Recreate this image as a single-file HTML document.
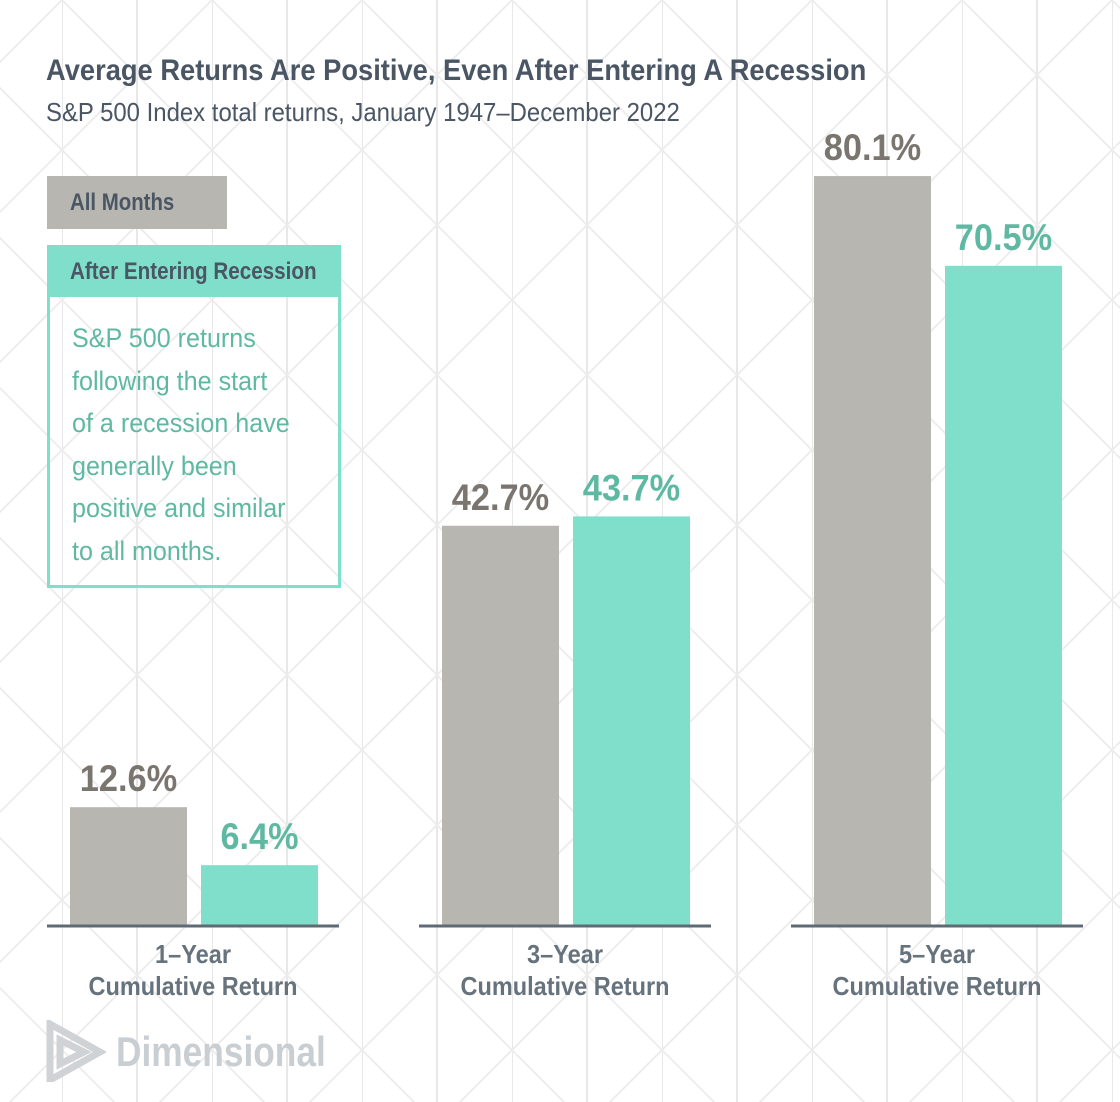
<!DOCTYPE html>
<html><head><meta charset="utf-8"><style>
body{margin:0;width:1120px;height:1102px;background:#fff;overflow:hidden;position:relative;font-family:"Liberation Sans Narrow","Liberation Sans",sans-serif;}
.abs{position:absolute;}
.sq{display:inline-block;transform-origin:0 0;white-space:nowrap;}
</style></head><body>
<svg class="abs" style="left:0;top:0" width="1120" height="1102">
<defs><pattern id="p" x="62" y="0" width="150" height="150" patternUnits="userSpaceOnUse">
<line x1="0" y1="0" x2="0" y2="150" stroke="#e8e8e8" stroke-width="2"/>
<line x1="75" y1="0" x2="75" y2="150" stroke="#e8e8e8" stroke-width="2"/>
<line x1="0" y1="0" x2="150" y2="150" stroke="#ededed" stroke-width="2"/>
<line x1="150" y1="0" x2="0" y2="150" stroke="#ededed" stroke-width="2"/>
</pattern></defs>
<rect width="1120" height="1102" fill="url(#p)"/>
</svg>
<div class="abs" style="left:46px;top:54px;font-size:30px;font-weight:bold;color:#4a5664;"><span class="sq" style="transform:scaleX(0.91)">Average Returns Are Positive, Even After Entering A Recession</span></div>
<div class="abs" style="left:46px;top:97px;font-size:26px;color:#4a5664;"><span class="sq" style="transform:scaleX(0.92)">S&amp;P 500 Index total returns, January 1947–December 2022</span></div>
<div class="abs" style="left:47px;top:176px;width:180px;height:53px;background:#b8b6b1;"><span class="sq" style="position:absolute;left:23px;top:13px;font-size:24px;font-weight:bold;color:#4a5664;transform:scaleX(0.85)">All Months</span></div>
<div class="abs" style="left:47px;top:245px;width:294px;height:52px;background:#80dfca;"><span class="sq" style="position:absolute;left:23px;top:13px;font-size:24px;font-weight:bold;color:#4a5664;transform:scaleX(0.86)">After Entering Recession</span></div>
<div class="abs" style="left:47px;top:297px;width:288px;height:288px;border:3px solid #80dfca;border-top:none;"><div class="sq" style="position:absolute;left:22px;top:20px;font-size:27px;line-height:42.5px;color:#5fb9a2;transform:scaleX(0.93)">S&amp;P 500 returns<br>following the start<br>of a recession have<br>generally been<br>positive and similar<br>to all months.</div></div>
<svg class="abs" id="chart" style="left:0;top:0" width="1120" height="1102"></svg>
<div class="abs" style="left:46px;top:1020px;height:60px;">
<svg width="60" height="62" style="position:absolute;left:0;top:0"><path d="M4 4 L54 32 L4 60 Z M14 20 L38 32 L14 44 Z" fill="none" stroke="#cfd3d6" stroke-width="7"/></svg>
<span class="sq" style="position:absolute;left:70px;top:8px;font-size:42px;font-weight:bold;color:#c9ced2;transform:scaleX(0.84)">Dimensional</span></div>
<script>
const categories=["1–Year","3–Year","5–Year"];
const allMonths=[12.6,42.7,80.1];
const afterRecession=[6.4,43.7,70.5];
const svg=document.getElementById('chart');
const NS='http://www.w3.org/2000/svg';
const base=925, pxPer=9.35;
const FF='"Liberation Sans Narrow","Liberation Sans",sans-serif';
function y(v){return base-v*pxPer;}
function gx(i){return 193+i*372;}
function mk(t,a){const e=document.createElementNS(NS,t);for(const k in a)e.setAttribute(k,a[k]);svg.appendChild(e);return e;}
categories.forEach((c,i)=>{
  const cx=gx(i);
  const series=[[allMonths[i],cx-123,'#b8b6b1','#7b7570','bar-all-months'],[afterRecession[i],cx+8,'#80dfca','#5fb9a2','bar-after-recession']];
  series.forEach(s=>{
    const r=mk('rect',{x:s[1],y:y(s[0]),width:117,height:base-y(s[0]),fill:s[2]});
    
    
    const txt=s[0].toFixed(1)+'%';
    const t=mk('text',{x:s[1]+58.5,y:y(s[0])-16,'text-anchor':'middle','font-size':37,'font-weight':'bold',fill:s[3],'font-family':FF,textLength:(txt.length*19.5),lengthAdjust:'spacingAndGlyphs'});
    t.textContent=txt;
    
    
  });
  const ax=mk('line',{x1:cx-146,x2:cx+146,y1:base+1,y2:base+1,stroke:'#5f6b74','stroke-width':3});
  
  
  const l=mk('text',{x:cx,y:963,'text-anchor':'middle','font-size':26,'font-weight':'bold',fill:'#66727c','font-family':FF,textLength:76,lengthAdjust:'spacingAndGlyphs'});
  l.textContent=c;
  
  
  const l2=mk('text',{x:cx,y:995,'text-anchor':'middle','font-size':26,'font-weight':'bold',fill:'#66727c','font-family':FF,textLength:209,lengthAdjust:'spacingAndGlyphs'});
  l2.textContent='Cumulative Return';
  
  
});
</script>
</body></html>
